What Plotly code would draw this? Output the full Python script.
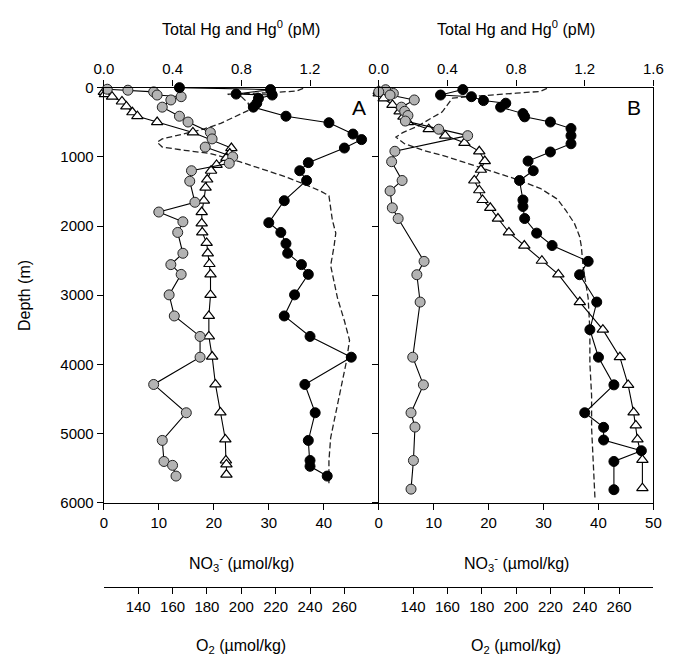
import plotly.graph_objects as go

# ---------------- Panel A ----------------
a_thg_depth = [0, 28, 93, 107, 155, 225, 282, 413, 507, 671, 751, 873, 1084, 1201, 1342, 1634, 1952, 2093,
               2254, 2394, 2558, 2699, 2995, 3300, 3596, 3896, 4290, 4699, 5099, 5389, 5473, 5614]
a_thg = [0.44, 0.97, 0.77, 0.98, 0.90, 0.89, 0.87, 1.06, 1.31, 1.45, 1.50, 1.40, 1.19, 1.14, 1.18, 1.05, 0.96, 1.03,
         1.06, 1.07, 1.15, 1.19, 1.11, 1.05, 1.20, 1.44, 1.17, 1.23, 1.19, 1.20, 1.20, 1.30]

a_hg0_depth = [23, 37, 61, 107, 131, 178, 282, 413, 497, 648, 741, 859, 1000, 1094, 1201, 1352, 1657, 1798, 1939,
               2093, 2394, 2558, 2699, 2995, 3300, 3596, 3896, 4290, 4699, 5099, 5403, 5459, 5614]
a_hg0 = [0.02, 0.14, 0.29, 0.31, 0.45, 0.39, 0.34, 0.44, 0.49, 0.62, 0.63, 0.59, 0.75, 0.73, 0.51, 0.50, 0.53, 0.32, 0.46,
         0.43, 0.46, 0.39, 0.45, 0.38, 0.41, 0.56, 0.56, 0.29, 0.48, 0.34, 0.35, 0.40, 0.42]

a_no3_depth = [60, 93, 131, 200, 272, 356, 413, 497, 648, 873, 952, 1014, 1117, 1201, 1328, 1445, 1634, 1798, 1962,
               2093, 2244, 2394, 2549, 2699, 2995, 3300, 3596, 3887, 4290, 4694, 5085, 5389, 5446, 5592]
a_no3 = [0.0, 0.2, 1.5, 3.3, 4.1, 5.2, 6.1, 9.7, 16.2, 23.2, 22.9, 22.3, 20.5, 19.5, 18.8, 18.5, 18.2, 17.8, 17.8,
         17.9, 18.7, 18.9, 19.2, 19.4, 19.4, 19.1, 19.1, 19.7, 20.3, 21.2, 22.1, 22.2, 22.3, 22.3]

a_o2_depth = [10, 50, 75, 95, 130, 225, 319, 437, 516, 601, 671, 741, 789, 859, 906, 952, 1070, 1187, 1282, 1399,
              1493, 1563, 1727, 1915, 2103, 2290, 2572, 3042, 3370, 3652, 3980, 4356, 4732, 5061, 5389, 5718]
a_o2 = [236, 232, 215, 192, 200, 204, 205, 195, 188, 178, 165, 154, 151, 154, 167, 182, 199, 214, 225, 237,
        246, 251, 252, 253, 255, 254, 252, 256, 260, 263, 261, 258, 255, 252, 251, 251]

# ---------------- Panel B ----------------
b_thg_depth = [28, 107, 131, 187, 225, 282, 375, 422, 497, 591, 694, 811, 930, 1061, 1201, 1342, 1624, 1718, 1892,
               2103, 2282, 2511, 2704, 3099, 3498, 3896, 4296, 4699, 4910, 5093, 5248, 5403, 5811]
b_thg = [0.49, 0.36, 0.54, 0.61, 0.74, 0.71, 0.84, 0.85, 1.00, 1.12, 1.12, 1.12, 1.00, 0.87, 0.90, 0.82, 0.84, 0.84, 0.85,
         0.92, 1.01, 1.22, 1.17, 1.27, 1.23, 1.28, 1.37, 1.20, 1.31, 1.31, 1.53, 1.37, 1.37]

b_hg0_depth = [30, 60, 84, 107, 178, 282, 342, 403, 483, 601, 694, 920, 1070, 1342, 1493, 1737, 1892, 2511, 2704,
               3099, 3896, 4296, 4699, 4906, 5389, 5803]
b_hg0 = [0.04, 0.0, 0.085, 0.066, 0.207, 0.132, 0.151, 0.17, 0.155, 0.349, 0.518, 0.094, 0.075, 0.136, 0.066, 0.079,
         0.113, 0.264, 0.222, 0.241, 0.198, 0.26, 0.188, 0.211, 0.202, 0.188]

b_no3_depth = [50, 84, 155, 250, 342, 420, 497, 601, 694, 797, 920, 1061, 1187, 1342, 1483, 1624, 1737, 1892, 2093,
               2282, 2502, 2699, 3099, 3498, 3896, 4296, 4694, 4882, 5085, 5380, 5789]
b_no3 = [0.0, 0.0, 0.9, 2.5, 3.8, 4.5, 5.3, 9.1, 12.1, 15.6, 18.3, 19.3, 18.6, 17.4, 18.3, 18.9, 20.3, 21.7, 23.7,
         26.5, 29.7, 32.7, 36.6, 40.8, 43.9, 45.4, 46.4, 46.8, 47.1, 48.0, 48.0]

b_o2_depth = [10, 55, 80, 110, 150, 250, 350, 450, 553, 650, 714, 811, 906, 1000, 1094, 1211, 1314, 1455, 1610,
              1775, 1962, 2150, 2290, 2572, 3042, 3511, 3980, 4451, 4920, 5389, 5952]
b_o2 = [218, 214, 200, 186, 163, 160, 157, 150, 143, 134, 130, 135, 146, 160, 171, 186, 199, 214, 224,
        229, 234, 237, 238, 239, 242, 243, 243, 244, 244, 245, 246]

# ---------------- ticks / labels ----------------
depth_ticks = [0, 1000, 2000, 3000, 4000, 5000, 6000]
no3_ticks_a = [0, 10, 20, 30, 40]
no3_ticks_b = [0, 10, 20, 30, 40, 50]
hg_ticks_a = [0.0, 0.4, 0.8, 1.2]
hg_ticks_b = [0.0, 0.4, 0.8, 1.2, 1.6]
o2_ticks = [140, 160, 180, 200, 220, 240, 260]
hg_title = "Total Hg and Hg<sup>0</sup> (pM)"
no3_title = "NO<sub>3</sub><sup>-</sup> (µmol/kg)"
o2_title = "O<sub>2</sub> (µmol/kg)"
depth_title = "Depth (m)"

W, H = 676, 666
FONT = "Arial, 'Liberation Sans', sans-serif"
xa0, xa1, xb1 = 96.7 / W, 380 / W, 663 / W
yb, yt = 1 - 506.7 / H, 1 - 80.7 / H
o2_pos = 1 - 592.7 / H

fig = go.Figure()

circle_black = dict(symbol="circle", size=10, color="black", line=dict(color="black", width=1))
circle_gray = dict(symbol="circle", size=10, color="#b3b3b3", line=dict(color="#222222", width=1))
tri = dict(symbol="triangle-up", size=10, color="white", line=dict(color="black", width=1.2))
ln = dict(color="black", width=1.1)
dash_ln = dict(color="#222222", width=1.3, dash="6px,3px")

for (o2d, o2v, no3d, no3v, hg0d, hg0v, thgd, thgv, xo2, xno3, xhg, ya) in [
    (a_o2_depth, a_o2, a_no3_depth, a_no3, a_hg0_depth, a_hg0, a_thg_depth, a_thg, "x", "x3", "x5", "y"),
    (b_o2_depth, b_o2, b_no3_depth, b_no3, b_hg0_depth, b_hg0, b_thg_depth, b_thg, "x2", "x4", "x6", "y2"),
]:
    fig.add_trace(go.Scatter(x=o2v, y=o2d, mode="lines", line=dash_ln, xaxis=xo2, yaxis=ya,
                             cliponaxis=False, showlegend=False))
    fig.add_trace(go.Scatter(x=no3v, y=no3d, mode="lines+markers", line=ln, marker=tri, xaxis=xno3, yaxis=ya,
                             cliponaxis=False, showlegend=False))
    fig.add_trace(go.Scatter(x=hg0v, y=hg0d, mode="lines+markers", line=ln, marker=circle_gray, xaxis=xhg,
                             yaxis=ya, cliponaxis=False, showlegend=False))
    fig.add_trace(go.Scatter(x=thgv, y=thgd, mode="lines+markers", line=ln, marker=circle_black, xaxis=xhg,
                             yaxis=ya, cliponaxis=False, showlegend=False))

tickfont = dict(family=FONT, size=15, color="black")
common = dict(showgrid=False, zeroline=False, linecolor="black", linewidth=1.3, tickcolor="black",
              tickwidth=1.3, tickfont=tickfont, ticklen=6)
inner = dict(showgrid=False, zeroline=False, tickcolor="black", tickwidth=1.3, ticklen=5,
             ticks="inside", showticklabels=False, showline=False)

fig.update_layout(
    width=W, height=H, margin=dict(l=0, r=0, t=0, b=0),
    paper_bgcolor="white", plot_bgcolor="white",
    font=dict(family=FONT, size=15, color="black"),
    # O2 axes (free, below the panels)
    xaxis=dict(domain=[xa0, xa1], anchor="free", position=o2_pos, range=[120, 280], tickvals=o2_ticks,
               ticks="outside", showline=True, **common),
    xaxis2=dict(domain=[xa1, xb1], anchor="free", position=o2_pos, range=[120, 280], tickvals=o2_ticks,
                ticks="outside", showline=True, **common),
    # NO3 axes
    xaxis3=dict(overlaying="x", anchor="y", side="bottom", range=[0, 50], tickvals=no3_ticks_a,
                ticks="outside", showline=True, **common),
    xaxis4=dict(overlaying="x2", anchor="y2", side="bottom", range=[0, 50], tickvals=no3_ticks_b,
                ticks="outside", showline=True, **common),
    # Hg axes (top)
    xaxis5=dict(overlaying="x", anchor="y", side="top", range=[0, 1.6], tickvals=hg_ticks_a,
                tickformat=".1f", ticks="outside", showline=True, **common),
    xaxis6=dict(overlaying="x2", anchor="y2", side="top", range=[0, 1.6], tickvals=hg_ticks_b,
                tickformat=".1f", ticks="outside", showline=True, **common),
    # inside halves of the crossing ticks on the top axes
    xaxis7=dict(overlaying="x", anchor="y", side="top", range=[0, 1.6], tickvals=hg_ticks_a, **inner),
    xaxis8=dict(overlaying="x2", anchor="y2", side="top", range=[0, 1.6], tickvals=hg_ticks_b[1:-1], **inner),
    yaxis=dict(domain=[yb, yt], anchor="x", range=[6000, 0], tickvals=depth_ticks, ticks="outside",
               showline=True, **common),
    yaxis2=dict(domain=[yb, yt], anchor="x2", range=[6000, 0], tickvals=depth_ticks, ticks="outside",
                showticklabels=False, showline=True, mirror=True, **common),
    yaxis3=dict(overlaying="y2", anchor="x2", side="left", range=[6000, 0], tickvals=depth_ticks[1:-1], **inner),
)

ann = []
for cx in [(xa0 + xa1) / 2, (xa1 + xb1) / 2]:
    ann.append(dict(text=hg_title, x=cx, y=1 - 20 / H, xref="paper", yref="paper", showarrow=False,
                    font=dict(family=FONT, size=16), xanchor="center", yanchor="middle"))
    ann.append(dict(text=no3_title, x=cx, y=1 - 568 / H, xref="paper", yref="paper", showarrow=False,
                    font=dict(family=FONT, size=16), xanchor="center", yanchor="middle"))
    ann.append(dict(text=o2_title, x=cx, y=1 - 654 / H, xref="paper", yref="paper", showarrow=False,
                    font=dict(family=FONT, size=16), xanchor="center", yanchor="middle"))
ann.append(dict(text=depth_title, x=15 / W, y=1 - 294 / H, xref="paper", yref="paper", showarrow=False,
                textangle=-90, font=dict(family=FONT, size=16), xanchor="center", yanchor="middle"))
ann.append(dict(text="A", x=360 / W, y=1 - 101 / H, xref="paper", yref="paper", showarrow=False,
                font=dict(family=FONT, size=21), xanchor="center", yanchor="middle"))
ann.append(dict(text="B", x=643 / W, y=1 - 101 / H, xref="paper", yref="paper", showarrow=False,
                font=dict(family=FONT, size=21), xanchor="center", yanchor="middle"))
fig.update_layout(annotations=ann)

fig.write_html("out.html")
